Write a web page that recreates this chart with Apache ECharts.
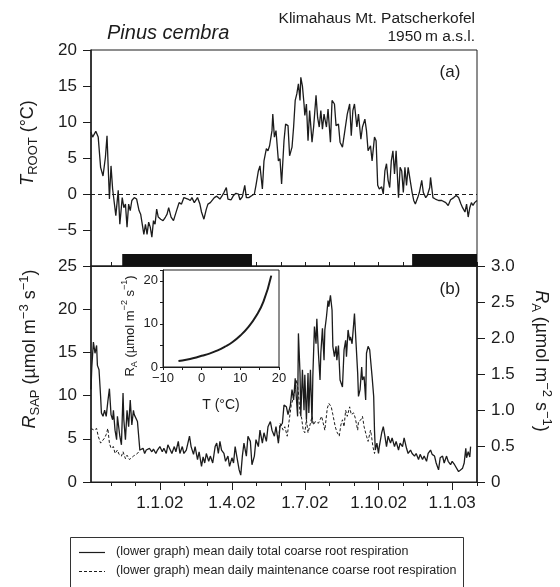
<!DOCTYPE html>
<html><head><meta charset="utf-8">
<script src="https://cdn.jsdelivr.net/npm/echarts@6/dist/echarts.min.js"></script>
<style>html,body{margin:0;padding:0;background:#fff}#c{width:560px;height:587px}</style>
</head><body><div id="c"></div>
<script>
// ---- x axis (days since 1.1.02) ----
const monthTicks = [-61,-31,0,31,59,90,120,151,181,212,243,273,304,334,365,396];
const majorTicks = [0,90,181,273,365];
const majorLabels = ['1.1.02','1.4.02','1.7.02','1.10.02','1.1.03'];
const snowPeriods = [[-47,115],[315,396]];

// ---- (a) root temperature ----
const tRootDays = [-86,-84,-82,-80,-77,-74,-71,-68,-66,-63,-61,-59,-57,-55,-52,-50,-47,-45,-43,-41,-39,-37,-35,-32,-29,-26,-24,-22,-20,-18,-16,-14,-12,-10,-8,-6,-4,-2,1,4,7,9,11,14,17,19,22,24,27,30,32,35,38,40,43,47,50,52,55,58,60,63,65,68,71,
75,78,80,83,85,89,92,95,98,100,103,106,108,111,115,118,120,123,125,128,130,133,135,137,140,141,143,145,148,150,152,155,157,160,162,165,167,169,171,173,175,176,178,180,181,183,185,187,190,192,195,197,199,201,203,205,208,210,213,215,218,220,223,225,
228,231,234,237,239,241,243,246,248,251,253,256,258,260,263,265,268,270,272,274,277,279,281,283,285,287,289,291,293,295,298,300,302,304,306,308,310,312,315,317,319,322,324,327,329,332,334,337,338,341,344,348,352,357,360,363,367,370,373,376,378,381,383,385,387,389,391,393,396];
const tRootVals = [8.6,7.9,8.1,8.7,7.9,3.7,2.5,5.1,8.1,-0.7,3.9,0.7,0.9,-3.0,0.5,-4.2,-0.5,-1.9,-1.4,-4.6,-1.4,-2.3,-0.9,-0.5,-0.7,-2.3,-2.8,-2.8,-5.6,-4.2,-5.6,-3.9,-4.6,-6.0,-3.7,-4.2,-2.1,-3.2,-3.5,-3.7,-3.2,-2.8,-1.9,-3.2,-3.7,-3.9,-1.9,-1.2,-1.4,-0.5,-0.4,-0.7,-0.9,-0.5,-1.2,-0.5,-1.4,-2.5,-3.5,-2.1,-1.4,-1.2,-1.4,-0.5,-0.3,
-0.7,-0.2,0.2,0.9,-0.7,-0.8,-0.2,0.1,0,-0.8,-0.4,1.2,-0.5,-0.5,-0.2,0,1.2,3.2,3.9,0.7,4.6,6.3,6.0,6.7,8.8,11.1,7.9,8.8,4.6,4.9,1.4,7.4,9.7,9.5,5.3,6.5,9.3,13.0,13.9,15.3,13.0,16.2,15.0,12.5,10.9,12.5,7.4,11.6,7.2,9.3,13.7,10.6,9.3,11.6,9.0,11.1,9.3,11.8,7.2,13.0,12.5,9.5,9.7,7.2,
6.5,8.8,11.1,12.5,8.1,11.6,12.5,9.3,11.1,7.6,9.3,10.4,8.8,6.0,6.7,4.6,7.9,7.4,1.2,0.7,1.0,0,3.2,4.2,1.9,0.9,4.6,6.0,2.8,6.0,-0.5,3.7,3.2,0.2,3.7,1.2,3.7,3.5,0.2,-0.9,-1.4,-0.5,0.2,1.9,0.2,-0.5,-0.2,0.9,2.3,-0.5,-0.7,-0.9,-0.9,-1.2,-1.6,-0.8,-0.5,-0.2,-0.5,-1.4,-1.9,-2.5,-1.4,-3.2,-1.9,-1.2,-1.6,-1.2,-0.9];

// ---- (b) total coarse root respiration ----
const totalDays = [-86,-85,-83,-81,-79,-78,-76,-74,-73,-71,-69,-67,-65,-63,-61,-59,-58,-56,-54,-53,-50,-48,-46,-45,-43,-41,-39,-37,-35,-33,-32,-30,-28,-25,-23,-21,-19,-17,-15,-13,-10,-8,-5,-3,0,3,5,8,10,13,15,18,20,23,25,28,30,33,35,37,39,42,44,47,49,52,54,56,58,61,63,66,
69,71,73,75,77,80,82,85,87,90,92,94,96,99,101,103,105,108,110,113,115,118,120,123,125,128,130,133,135,138,140,143,145,148,150,153,155,158,160,163,165,167,169,170,172,173,175,176,178,180,181,183,185,186,188,190,191,193,195,196,198,200,201,203,205,206,208,210,211,213,215,216,218,220,221,223,225,
228,230,232,233,235,237,238,240,242,243,245,247,248,250,252,253,255,257,258,260,262,263,265,267,268,269,271,273,274,277,279,281,283,285,288,290,293,295,298,300,303,305,308,310,313,315,318,320,323,325,328,330,333,335,338,340,343,345,348,350,353,355,358,360,363,365,368,370,373,375,378,380,382,383,385,387,388];
const totalVals = [10.7,13.3,16.2,14.9,15.8,13.5,13.0,9.9,8.0,7.6,8.3,7.6,9.3,10.8,7.8,7.2,8.3,6.0,4.9,7.6,5.3,4.3,10.3,7.2,4.9,8.3,6.4,9.5,6.6,8.3,7.8,7.6,7.0,3.7,3.5,3.9,3.3,3.7,3.5,3.9,3.5,3.8,3.3,3.7,4.1,3.5,3.9,3.3,4.3,3.7,3.3,4.1,3.5,4.7,3.3,4.1,3.3,3.7,4.5,5.3,4.1,3.2,4.1,2.6,3.5,1.8,2.9,2.2,3.3,2.4,3.0,2.2,
4.1,4.5,3.3,4.7,3.7,3.3,2.4,3.0,1.8,2.8,2.2,4.1,3.0,1.4,0.8,3.0,4.5,3.0,5.3,4.7,2.0,3.0,4.9,4.1,6.0,4.5,5.7,4.7,6.4,7.0,6.0,5.3,6.4,4.5,6.4,6.8,8.9,8.7,7.8,8.9,10.7,9.5,12.0,10.3,7.6,17.2,12.6,7.6,13.0,8.3,12.4,7.2,12.6,8.0,13.0,6.8,12.2,18.0,16.0,18.9,14.9,11.8,14.9,17.8,14.1,17.6,19.1,21.0,20.3,21.6,19.9,15.7,14.5,15.7,14.1,15.8,11.8,
11.0,15.3,16.4,14.5,17.6,16.4,16.8,16.0,18.3,19.5,16.0,12.6,9.9,10.7,13.3,11.8,12.2,9.5,14.9,15.7,15.3,15.5,12.2,9.9,6.0,3.7,4.5,3.3,4.1,5.7,6.4,5.3,4.1,5.3,4.5,5.1,4.1,4.7,3.7,4.5,4.1,5.1,3.9,3.3,3.7,3.3,3.0,3.3,2.6,3.2,2.6,3.0,2.4,3.3,3.7,3.2,3.0,2.2,1.4,2.8,3.0,2.2,3.0,2.4,2.0,2.4,2.0,1.8,1.2,1.4,1.6,2.2,3.9,2.8,3.5,2.9,4.1];

// ---- (b) maintenance coarse root respiration (where it departs from total) ----
const maintDays1 = [-86,-84,-82,-79,-77,-74,-72,-69,-67,-65,-63,-61,-58,-56,-53,-51,-48,-46,-43,-41,-38,-36,-33,-31,-28,-25];
const maintVals1 = [6.2,6.4,6.0,6.2,5.3,4.5,4.3,5.1,5.5,6.2,4.5,3.9,4.1,3.3,3.7,3.2,3.0,3.5,2.7,3.1,2.6,2.8,3.0,3.2,3.3,3.7];
const maintDays2 = [148,150,152,154,156,159,161,164,166,169,171,173,175,177,179,181,183,185,188,190,192,194,196,198,200,202,204,206,209,211,214,216,219,221,224,226,228,230,232,234,237,239,242,244,247,248,251,253,255,258,260,263,264,266,268,269];
const maintVals2 = [4.5,6.8,7.0,6.0,6.4,5.3,6.8,8.9,9.5,10.7,11.8,10.3,8.0,7.4,6.0,5.7,7.2,5.7,6.8,7.6,6.6,7.0,7.2,6.8,7.2,7.6,7.8,6.0,8.5,9.1,8.7,7.8,6.4,5.8,5.3,6.6,7.2,6.4,8.3,7.6,8.7,7.8,8.0,7.4,6.0,7.0,7.2,7.6,6.4,5.3,4.7,6.0,5.5,4.1,3.3,3.7];

// ---- inset R_A vs T ----
const insetT = [-6,-4,-2,0,2,4,6,8,10,12,14,16,18];
const insetR = [1.4,1.7,2.1,2.6,3.1,3.8,4.7,5.8,7.3,9.2,11.7,15.2,21.2];

const nameTotal = '(lower graph) mean daily total coarse root respiration';
const nameMaint = '(lower graph) mean daily maintenance coarse root respiration';

const FONT = '"Liberation Sans", Arial, Helvetica, sans-serif';
const INK = '#1c1c1c';
const pairs = (xs, ys) => xs.map((x, i) => [x, ys[i]]);
const minus = v => (v < 0 ? '\u2212' + Math.abs(v) : String(v));

const chart = echarts.init(document.getElementById('c'));

function richFor(size) {
  const sub = Math.round(size * 0.7);
  return {
    i: {fontFamily: FONT, fontSize: size, fontStyle: 'italic', fill: INK, color: INK, lineHeight: size + 6, verticalAlign: 'middle'},
    n: {fontFamily: FONT, fontSize: size, fill: INK, color: INK, lineHeight: size + 6, verticalAlign: 'middle'},
    s: {fontFamily: FONT, fontSize: sub, fill: INK, color: INK, lineHeight: sub, verticalAlign: 'bottom'},
    p: {fontFamily: FONT, fontSize: sub, fill: INK, color: INK, lineHeight: sub, verticalAlign: 'top'}
  };
}
function txt(x, y, rot, text, size, extra) {
  return {
    type: 'text', x: x, y: y, rotation: rot, silent: true, z: 50,
    style: Object.assign({
      text: text, rich: richFor(size), fill: INK,
      fontFamily: FONT, fontSize: size,
      align: 'center', verticalAlign: 'middle', textAlign: 'center', textVerticalAlign: 'middle'
    }, extra || {})
  };
}

const axisLineStyle = {color: INK, width: 1};
const labelStyle = {fontFamily: FONT, fontSize: 17, color: INK};

const maintData = pairs(maintDays1, maintVals1).concat([[0, '-']]).concat(pairs(maintDays2, maintVals2));

const option = {
  backgroundColor: '#fff',
  animation: false,
  grid: [
    {left: 91, top: 50, width: 386, height: 216, show: true, borderColor: INK, borderWidth: 1, backgroundColor: 'transparent'},
    {left: 91, top: 266, width: 386, height: 216, show: true, borderColor: INK, borderWidth: 1, backgroundColor: 'transparent'},
    {left: 163, top: 270, width: 116, height: 97, show: true, borderColor: INK, borderWidth: 1, backgroundColor: '#fff'}
  ],
  xAxis: [
    {gridIndex: 0, type: 'value', position: 'bottom', min: -86, max: 396,
     axisLine: {show: true, onZero: false, lineStyle: axisLineStyle},
     axisTick: {show: true, inside: true, length: 4, customValues: monthTicks, lineStyle: axisLineStyle},
     axisLabel: {show: false}, splitLine: {show: false}},
    {gridIndex: 1, type: 'value', position: 'bottom', min: -86, max: 396,
     axisLine: {show: true, onZero: false, lineStyle: axisLineStyle},
     axisTick: {show: true, length: 4, customValues: monthTicks, lineStyle: axisLineStyle},
     axisLabel: {show: false}, splitLine: {show: false}},
    {gridIndex: 1, type: 'value', position: 'bottom', offset: 0, min: -86, max: 396,
     axisLine: {show: false, onZero: false},
     axisTick: {show: true, length: 8, customValues: majorTicks, lineStyle: axisLineStyle},
     axisLabel: Object.assign({show: true, margin: 13, customValues: majorTicks,
       formatter: v => majorLabels[majorTicks.indexOf(v)] || ''}, labelStyle),
     splitLine: {show: false}},
    {gridIndex: 2, type: 'value', position: 'bottom', min: -10, max: 20, interval: 5,
     axisLine: {show: true, onZero: false, lineStyle: axisLineStyle},
     axisTick: {show: true, length: 3, lineStyle: axisLineStyle},
     axisLabel: {show: true, margin: 5, fontFamily: FONT, fontSize: 13, color: INK,
       formatter: v => (v % 10 === 0 ? minus(v) : '')},
     splitLine: {show: false}}
  ],
  yAxis: [
    {gridIndex: 0, type: 'value', min: -10, max: 20, interval: 5,
     axisLine: {show: true, onZero: false, lineStyle: {color: INK, width: 1.5}},
     axisTick: {show: true, length: 8, lineStyle: axisLineStyle},
     axisLabel: Object.assign({margin: 14, formatter: v => (v === -10 ? '' : minus(v))}, labelStyle),
     splitLine: {show: false}},
    {gridIndex: 1, type: 'value', position: 'left', min: 0, max: 25, interval: 5,
     axisLine: {show: true, onZero: false, lineStyle: {color: INK, width: 1.5}},
     axisTick: {show: true, length: 8, lineStyle: axisLineStyle},
     axisLabel: Object.assign({margin: 14}, labelStyle),
     splitLine: {show: false}},
    {gridIndex: 1, type: 'value', position: 'right', min: 0, max: 3, interval: 0.5,
     axisLine: {show: true, onZero: false, lineStyle: {color: INK, width: 1.5}},
     axisTick: {show: true, length: 8, lineStyle: axisLineStyle},
     axisLabel: Object.assign({margin: 14, formatter: v => (v === 0 ? '0' : v.toFixed(1))}, labelStyle),
     splitLine: {show: false}},
    {gridIndex: 2, type: 'value', min: 0, max: 22.5, interval: 5,
     axisLine: {show: true, onZero: false, lineStyle: axisLineStyle},
     axisTick: {show: true, length: 3, lineStyle: axisLineStyle},
     axisLabel: {margin: 5, fontFamily: FONT, fontSize: 13, color: INK,
       formatter: v => (v % 10 === 0 ? String(v) : '')},
     splitLine: {show: false}}
  ],
  series: [
    {name: 'T_ROOT', type: 'line', xAxisIndex: 0, yAxisIndex: 0, data: pairs(tRootDays, tRootVals),
     symbol: 'none', lineStyle: {color: INK, width: 1.3}, silent: true,
     markLine: {silent: true, symbol: ['none', 'none'], label: {show: false},
       lineStyle: {color: INK, width: 1, type: [4, 3]}, data: [{yAxis: 0}]},
     markArea: {silent: true, itemStyle: {color: '#111'},
       data: snowPeriods.map(p => [{xAxis: p[0], yAxis: -10}, {xAxis: p[1], yAxis: -8.35}])}},
    {name: nameTotal, type: 'line', xAxisIndex: 1, yAxisIndex: 1, data: pairs(totalDays, totalVals),
     symbol: 'none', lineStyle: {color: INK, width: 1.3}, itemStyle: {color: INK}, silent: true},
    {name: nameMaint, type: 'line', xAxisIndex: 1, yAxisIndex: 1, data: maintData,
     symbol: 'none', connectNulls: false, lineStyle: {color: INK, width: 1, type: [3, 2]}, itemStyle: {color: INK}, silent: true},
    {name: 'inset', type: 'line', xAxisIndex: 3, yAxisIndex: 3, data: pairs(insetT, insetR),
     symbol: 'none', smooth: true, lineStyle: {color: INK, width: 2}, silent: true}
  ],
  graphic: [
    txt(107, 33, 0, 'Pinus cembra', 20, {align: 'left', textAlign: 'left', fontStyle: 'italic'}),
    txt(475, 19, 0, 'Klimahaus Mt. Patscherkofel', 15.5, {align: 'right', textAlign: 'right'}),
    txt(475, 37, 0, '1950\u2009m a.s.l.', 15.5, {align: 'right', textAlign: 'right'}),
    txt(450, 72, 0, '(a)', 17),
    txt(450, 289, 0, '(b)', 17),
    txt(28, 143, Math.PI / 2, '{i|T}{s|ROOT}{n| (°C)}', 18),
    txt(30, 349, Math.PI / 2, '{i|R}{s|SAP}{n| (µmol m}{p|\u22123}{n| s}{p|\u22121}{n|)}', 18),
    txt(541, 361, -Math.PI / 2, '{i|R}{s|A}{n| (µmol m}{p|\u22122}{n| s}{p|\u22121}{n|)}', 18),
    txt(130, 326, Math.PI / 2, '{n|R}{s|A}{n| (µmol m}{p|\u22122}{n| s}{p|\u22121}{n|)}', 13),
    txt(221, 405, 0, 'T (°C)', 14),
    // legend box
    {type: 'rect', silent: true, shape: {x: 70.5, y: 537.5, width: 393, height: 70},
     style: {fill: '#fff', stroke: '#333', lineWidth: 1}},
    {type: 'line', silent: true, shape: {x1: 79, y1: 552.5, x2: 105, y2: 552.5},
     style: {stroke: INK, lineWidth: 1.2}},
    {type: 'line', silent: true, shape: {x1: 79, y1: 571.5, x2: 105, y2: 571.5},
     style: {stroke: INK, lineWidth: 1, lineDash: [3, 2]}},
    txt(116, 552, 0, nameTotal, 12.5, {align: 'left', textAlign: 'left'}),
    txt(116, 571, 0, nameMaint, 12.5, {align: 'left', textAlign: 'left'})
  ]
};
chart.setOption(option);
</script>
</body></html>
